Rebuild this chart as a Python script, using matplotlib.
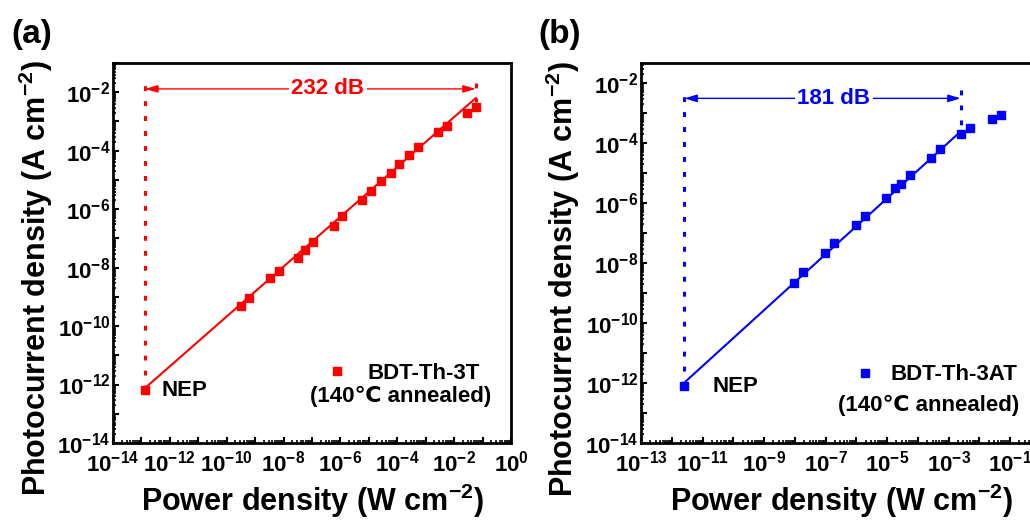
import numpy as np
import matplotlib
matplotlib.use("Agg")
from matplotlib import pyplot as plt
from matplotlib.ticker import LogLocator, FuncFormatter, NullFormatter

# panel (a): BDT-Th-3T
power_a = [1.35e-13, 3.16e-10, 6.17e-10, 3.31e-9, 6.76e-9, 3.16e-8, 5.62e-8, 1.12e-7,
           5.89e-7, 1.17e-6, 5.89e-6, 1.20e-5, 2.69e-5, 6.03e-5, 1.17e-4, 2.63e-4,
           5.37e-4, 2.75e-3, 5.50e-3, 2.75e-2, 5.75e-2]
current_a = [6.3e-13, 4.79e-10, 8.91e-10, 4.27e-9, 7.59e-9, 2.19e-8, 3.98e-8, 7.41e-8,
             2.75e-7, 5.75e-7, 2.04e-6, 4.17e-6, 9.55e-6, 1.66e-5, 3.39e-5, 6.92e-5,
             1.32e-4, 4.27e-4, 7.24e-4, 2.00e-3, 3.16e-3]
fit_x_a = [1.41e-13, 5.75e-2]
fit_y_a = [7.9e-13, 6.3e-3]
nep_line_a = [6.3e-13, 2.5e-2]      # left dotted line, y range
top_line_a = [2.1e-2, 4.5e-3]       # right dotted line, y range
arrow_y_a = 1.3e-2
text_x_a = 3.6e-7

# panel (b): BDT-Th-3AT
power_b = [2.57e-12, 9.55e-9, 1.86e-8, 9.33e-8, 1.91e-7, 9.55e-7, 1.86e-6, 8.91e-6,
           1.82e-5, 2.75e-5, 5.37e-5, 2.63e-4, 5.13e-4, 2.57e-3, 4.90e-3, 2.63e-2, 5.13e-2]
current_b = [7.76e-13, 2.14e-9, 5.01e-9, 2.14e-8, 4.68e-8, 1.82e-7, 3.63e-7, 1.48e-6,
             3.16e-6, 4.37e-6, 8.71e-6, 3.16e-5, 6.31e-5, 2.00e-4, 3.16e-4, 6.31e-4, 8.71e-4]
fit_x_b = [2.88e-12, 2.45e-3]
fit_y_b = [1.15e-12, 2.45e-4]
nep_line_b = [7.8e-13, 6.0e-3]
top_line_b = [5.9e-3, 3.7e-4]
arrow_y_b = 3.1e-3
text_x_b = 1.86e-7

plt.rcParams['font.family'] = ['Liberation Sans', 'DejaVu Sans']
plt.rcParams['font.weight'] = 'bold'
plt.rcParams['axes.labelweight'] = 'bold'
plt.rcParams['mathtext.fontset'] = 'custom'
plt.rcParams['mathtext.rm'] = 'Liberation Sans:bold'
plt.rcParams['mathtext.default'] = 'regular'


def tick_fmt(parity):
    def f(v, pos):
        e = int(round(np.log10(v)))
        if e % 2 == parity:
            return r'$\mathdefault{10^{%d}}$' % e
        return ''
    return FuncFormatter(f)


def panel(ax, px, py, fx, fy, nep_y, top_y, arrow_y, text_x, db_text, color,
          xlim, ylim, xpar, name, leg_x, leg_y, leg_pad, ann_x, ann_y, nep_off):
    ax.plot(fx, fy, '-', color=color, lw=1.5)
    ax.plot(px, py, 's', color=color, ms=6, ls='none', label=name)
    dots = (0, (1.6, 3.3))
    ax.plot([px[0], px[0]], nep_y, color=color, lw=2.2, ls=dots)
    ax.plot([fx[-1], fx[-1]], top_y, color=color, lw=2.2, ls=dots)
    ax.annotate('', xy=(fx[-1], arrow_y), xytext=(px[0], arrow_y),
                arrowprops=dict(arrowstyle='<|-|>,head_length=0.5,head_width=0.15',
                                color=color, lw=1, shrinkA=0, shrinkB=0,
                                mutation_scale=15))
    ax.text(text_x, arrow_y, db_text, color=color, fontsize=16, ha='center', va='center',
            bbox=dict(facecolor='white', edgecolor='none', pad=2))
    ax.annotate('NEP', xy=(px[0], py[0]), xytext=(nep_off, 0), textcoords='offset points',
                fontsize=16, ha='left', va='center')

    ax.set_xscale('log')
    ax.set_yscale('log')
    ax.set_xlim(xlim)
    ax.set_ylim(ylim)

    for axis, par in ((ax.xaxis, xpar), (ax.yaxis, 0)):
        axis.set_major_locator(LogLocator(base=10, numticks=30))
        axis.set_minor_locator(LogLocator(base=10, subs=np.arange(2, 10), numticks=200))
        axis.set_major_formatter(tick_fmt(par))
        axis.set_minor_formatter(NullFormatter())
    ax.tick_params(which='both', direction='in', top=False, right=False, labelsize=16)
    ax.tick_params(which='major', length=4.5, width=1.5)
    ax.tick_params(which='minor', length=2.5, width=1.2)
    ax.tick_params(axis='y', pad=2)
    ax.tick_params(axis='x', pad=5.5)
    for sp in ax.spines.values():
        sp.set_linewidth(2)

    ax.set_xlabel('Power density (W cm$^{-2}$)', fontsize=22, fontweight='bold', labelpad=4)
    ax.set_ylabel('Photocurrent density (A cm$^{-2}$)', fontsize=22, fontweight='bold')

    ax.legend(loc='center left', bbox_to_anchor=(leg_x, leg_y), frameon=False,
              handlelength=1, handletextpad=leg_pad, borderpad=0, borderaxespad=0,
              fontsize=16)
    ax.text(ann_x, ann_y, '(140℃ annealed)', transform=ax.transAxes, fontsize=16,
            ha='center', va='center')


fig = plt.figure(figsize=(10.3, 5.2), dpi=100)
ax_a = fig.add_axes([113 / 1030, 77 / 520, 398 / 1030, 380 / 520])
ax_b = fig.add_axes([641 / 1030, 77 / 520, 400 / 1030, 380 / 520])

panel(ax_a, power_a, current_a, fit_x_a, fit_y_a, nep_line_a, top_line_a, arrow_y_a,
      text_x_a, '232 dB', '#ff0000', (1e-14, 1), (1e-14, 1e-1), 0, 'BDT-Th-3T',
      0.534, 0.183, 0.9, 0.723, 0.122, 12)
panel(ax_b, power_b, current_b, fit_x_b, fit_y_b, nep_line_b, top_line_b, arrow_y_b,
      text_x_b, '181 dB', '#0000ff', (1e-13, 1), (1e-14, 10 ** -1.33), 1, 'BDT-Th-3AT',
      0.5325, 0.179, 0.63, 0.72, 0.10, 20)

ax_a.yaxis.set_label_coords(-0.146, 0.433)
ax_b.yaxis.set_label_coords(-0.1475, 0.432)

fig.text(32 / 1030, 1 - 35 / 520, '(a)', fontsize=24, ha='center', va='center')
fig.text(560 / 1030, 1 - 35 / 520, '(b)', fontsize=24, ha='center', va='center')

fig.savefig('out.png', dpi=100)
